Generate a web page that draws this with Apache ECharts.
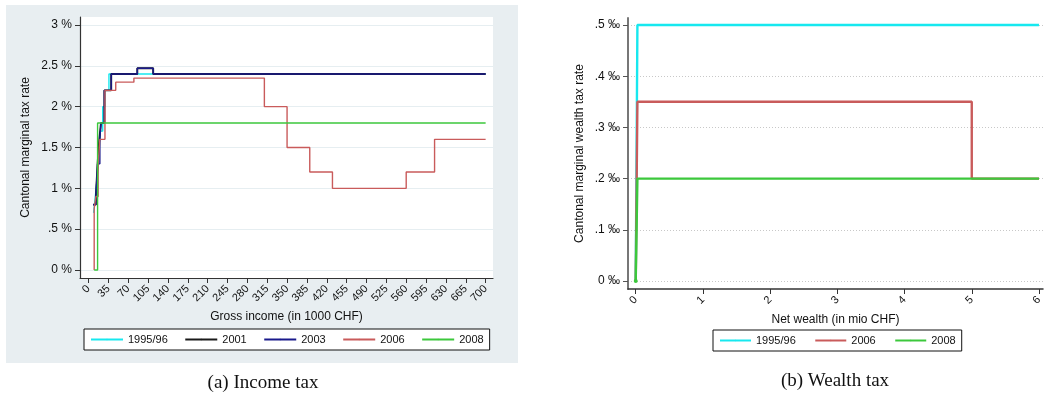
<!DOCTYPE html>
<html>
<head>
<meta charset="utf-8">
<script src="https://cdn.jsdelivr.net/npm/echarts@6/dist/echarts.min.js"></script>
<style>
html, body { margin: 0; padding: 0; background: #ffffff; }
#chart { width: 1049px; height: 406px; }
</style>
</head>
<body>
<div id="chart"></div>
<script>
// ---- axis ticks and labels ----
const incomeTicks = [0, 35, 70, 105, 140, 175, 210, 245, 280, 315, 350, 385, 420, 455, 490, 525, 560, 595, 630, 665, 700];
const incomeRateTicks = [0, 0.5, 1, 1.5, 2, 2.5, 3];
const incomeRateLabels = ['0 %', '.5 %', '1 %', '1.5 %', '2 %', '2.5 %', '3 %'];
const wealthTicks = [0, 1, 2, 3, 4, 5, 6];
const wealthRateTicks = [0, 0.1, 0.2, 0.3, 0.4, 0.5];
const wealthRateLabels = ['0 ‰', '.1 ‰', '.2 ‰', '.3 ‰', '.4 ‰', '.5 ‰'];

// ---- legend entries ----
const incomeYears = ['1995/96', '2001', '2003', '2006', '2008'];
const wealthYears = ['1995/96', '2006', '2008'];

// ---- income tax schedules: [gross income in 1000 CHF, marginal rate in %] ----
const income1995 = [[9, 0.7], [12, 0.9], [15, 1.1], [18, 1.4], [21, 1.7], [25, 2.0], [29, 2.2], [36, 2.4], [700, 2.4]];
const income2001 = [[8, 0.8], [13, 0.9], [16, 1.3], [19, 1.6], [22, 1.8], [28, 2.2], [40, 2.4], [86, 2.47], [114, 2.4], [700, 2.4]];
const income2003 = [[8, 0.8], [13, 0.9], [16, 1.3], [20, 1.6], [22, 1.8], [28, 2.2], [40, 2.4], [86, 2.47], [114, 2.4], [700, 2.4]];
const income2006 = [[10, 0], [10, 0.75], [13, 0.9], [17, 1.3], [20, 1.6], [29, 2.2], [48, 2.3], [80, 2.35], [310, 2.0], [350, 1.5], [390, 1.2], [430, 1.0], [560, 1.2], [610, 1.6], [700, 1.6]];
const income2008 = [[10, 0], [16, 1.8], [700, 1.8]];

// ---- wealth tax schedules: [net wealth in mio CHF, marginal rate in per mille] ----
const wealth1995 = [[0, 0], [0.025, 0.5], [6, 0.5]];
const wealth2006 = [[0, 0], [0.025, 0.35], [5, 0.2], [6, 0.2]];
const wealth2008 = [[0, 0], [0.025, 0.2], [6, 0.2]];

const colors = {
  '1995/96': '#17e8ef',
  '2001': '#1a1a1a',
  '2003': '#1a1a8c',
  '2006': '#c95b5b',
  '2008': '#3cc83c'
};

const FONT = '"Liberation Sans", Arial, Helvetica, sans-serif';

function labelFor(ticks, labels) {
  return function (v) {
    for (let i = 0; i < ticks.length; i++) {
      if (Math.abs(ticks[i] - v) < 1e-9) return labels[i];
    }
    return '';
  };
}

function stepSeries(name, data, axis, width, z) {
  return {
    name: name,
    type: 'line',
    step: 'end',
    xAxisIndex: axis,
    yAxisIndex: axis,
    data: data,
    symbol: 'none',
    z: z,
    animation: false,
    lineStyle: { color: colors[name], width: width },
    itemStyle: { color: colors[name] }
  };
}

const chart = echarts.init(document.getElementById('chart'), null, { renderer: 'canvas' });

const green2008 = stepSeries('2008', wealth2008.map(function (p, i) {
  return i === 0 ? { value: p, symbol: 'circle', symbolSize: 4 } : { value: p };
}), 1, 2.4, 6);
green2008.showSymbol = true;

const option = {
  backgroundColor: '#ffffff',
  animation: false,
  textStyle: { fontFamily: FONT },
  graphic: [
    {
      type: 'rect', z: -10, silent: true,
      shape: { x: 6, y: 5, width: 512, height: 358 },
      style: { fill: '#e8eef1' }
    },
    {
      type: 'text', z: 10, silent: true,
      style: {
        text: '(a) Income tax', x: 263, y: 383,
        font: '19px "Liberation Serif", "Times New Roman", serif',
        fill: '#111', textAlign: 'center', textVerticalAlign: 'middle'
      }
    },
    {
      type: 'text', z: 10, silent: true,
      style: {
        text: '(b) Wealth tax', x: 835, y: 381,
        font: '19px "Liberation Serif", "Times New Roman", serif',
        fill: '#111', textAlign: 'center', textVerticalAlign: 'middle'
      }
    }
  ],
  grid: [
    { left: 80, right: 556, top: 17, bottom: 128, show: true, backgroundColor: '#ffffff', borderWidth: 0 },
    { left: 628, right: 6, top: 18, bottom: 117, show: false }
  ],
  legend: [
    {
      data: incomeYears,
      left: 84, top: 329,
      orient: 'horizontal',
      itemWidth: 32, itemHeight: 2, itemGap: 16.5,
      padding: [5, 6, 5, 6],
      backgroundColor: '#ffffff', borderColor: '#111', borderWidth: 1, borderRadius: 0,
      textStyle: { fontFamily: FONT, fontSize: 11, color: '#111' },
      selectedMode: false
    },
    {
      data: wealthYears,
      left: 713, top: 330,
      orient: 'horizontal',
      itemWidth: 31, itemHeight: 2, itemGap: 18.5,
      padding: [5, 6, 5, 6],
      backgroundColor: '#ffffff', borderColor: '#111', borderWidth: 1, borderRadius: 0,
      textStyle: { fontFamily: FONT, fontSize: 11, color: '#111' },
      selectedMode: false
    }
  ],
  xAxis: [
    {
      type: 'value', gridIndex: 0, min: -15, max: 713,
      name: 'Gross income (in 1000 CHF)', nameLocation: 'middle', nameGap: 33,
      nameTextStyle: { fontFamily: FONT, fontSize: 12, color: '#111' },
      axisLine: { show: true, onZero: false, lineStyle: { color: '#333', width: 1.2 } },
      axisTick: { show: true, length: 5, customValues: incomeTicks, lineStyle: { color: '#333' } },
      axisLabel: { customValues: incomeTicks, rotate: 45, margin: 9, fontFamily: FONT, fontSize: 11, color: '#111' },
      splitLine: { show: false }
    },
    {
      type: 'value', gridIndex: 1, min: -0.115, max: 6.06,
      name: 'Net wealth (in mio CHF)', nameLocation: 'middle', nameGap: 24,
      nameTextStyle: { fontFamily: FONT, fontSize: 12, color: '#111' },
      axisLine: { show: true, onZero: false, lineStyle: { color: '#333', width: 1.5 } },
      axisTick: { show: true, length: 5, customValues: wealthTicks, lineStyle: { color: '#333' } },
      axisLabel: { customValues: wealthTicks, rotate: 45, margin: 9, fontFamily: FONT, fontSize: 11, color: '#111' },
      splitLine: { show: false }
    }
  ],
  yAxis: [
    {
      type: 'value', gridIndex: 0, min: -0.098, max: 3.098,
      name: 'Cantonal marginal tax rate', nameLocation: 'middle', nameGap: 48,
      nameTextStyle: { fontFamily: FONT, fontSize: 12, color: '#111' },
      axisLine: { show: true, onZero: false, lineStyle: { color: '#333', width: 1.2 } },
      axisTick: { show: true, length: 5, customValues: incomeRateTicks, lineStyle: { color: '#333' } },
      axisLabel: {
        customValues: incomeRateTicks, margin: 8, fontFamily: FONT, fontSize: 12, color: '#111',
        formatter: labelFor(incomeRateTicks, incomeRateLabels)
      },
      splitLine: { show: true, lineStyle: { color: '#e6eef1', width: 1.2 } }
    },
    {
      type: 'value', gridIndex: 1, min: -0.0156, max: 0.5137,
      name: 'Cantonal marginal wealth tax rate', nameLocation: 'middle', nameGap: 42,
      nameTextStyle: { fontFamily: FONT, fontSize: 12, color: '#111' },
      axisLine: { show: true, onZero: false, lineStyle: { color: '#777', width: 2 } },
      axisTick: { show: true, length: 5, customValues: wealthRateTicks, lineStyle: { color: '#555' } },
      axisLabel: {
        customValues: wealthRateTicks, margin: 8, fontFamily: FONT, fontSize: 12, color: '#111',
        formatter: labelFor(wealthRateTicks, wealthRateLabels)
      },
      splitLine: { show: true, lineStyle: { color: '#c8c8c8', width: 1, type: [1, 2] } }
    }
  ],
  series: [
    stepSeries('1995/96', income1995, 0, 1.4, 2),
    stepSeries('2001', income2001, 0, 1.9, 3),
    stepSeries('2003', income2003, 0, 1.4, 4),
    stepSeries('2006', income2006, 0, 1.4, 5),
    stepSeries('2008', income2008, 0, 1.4, 6),
    stepSeries('1995/96', wealth1995, 1, 2.4, 2),
    stepSeries('2006', wealth2006, 1, 2.4, 5),
    green2008
  ]
};

chart.setOption(option);
</script>
</body>
</html>
